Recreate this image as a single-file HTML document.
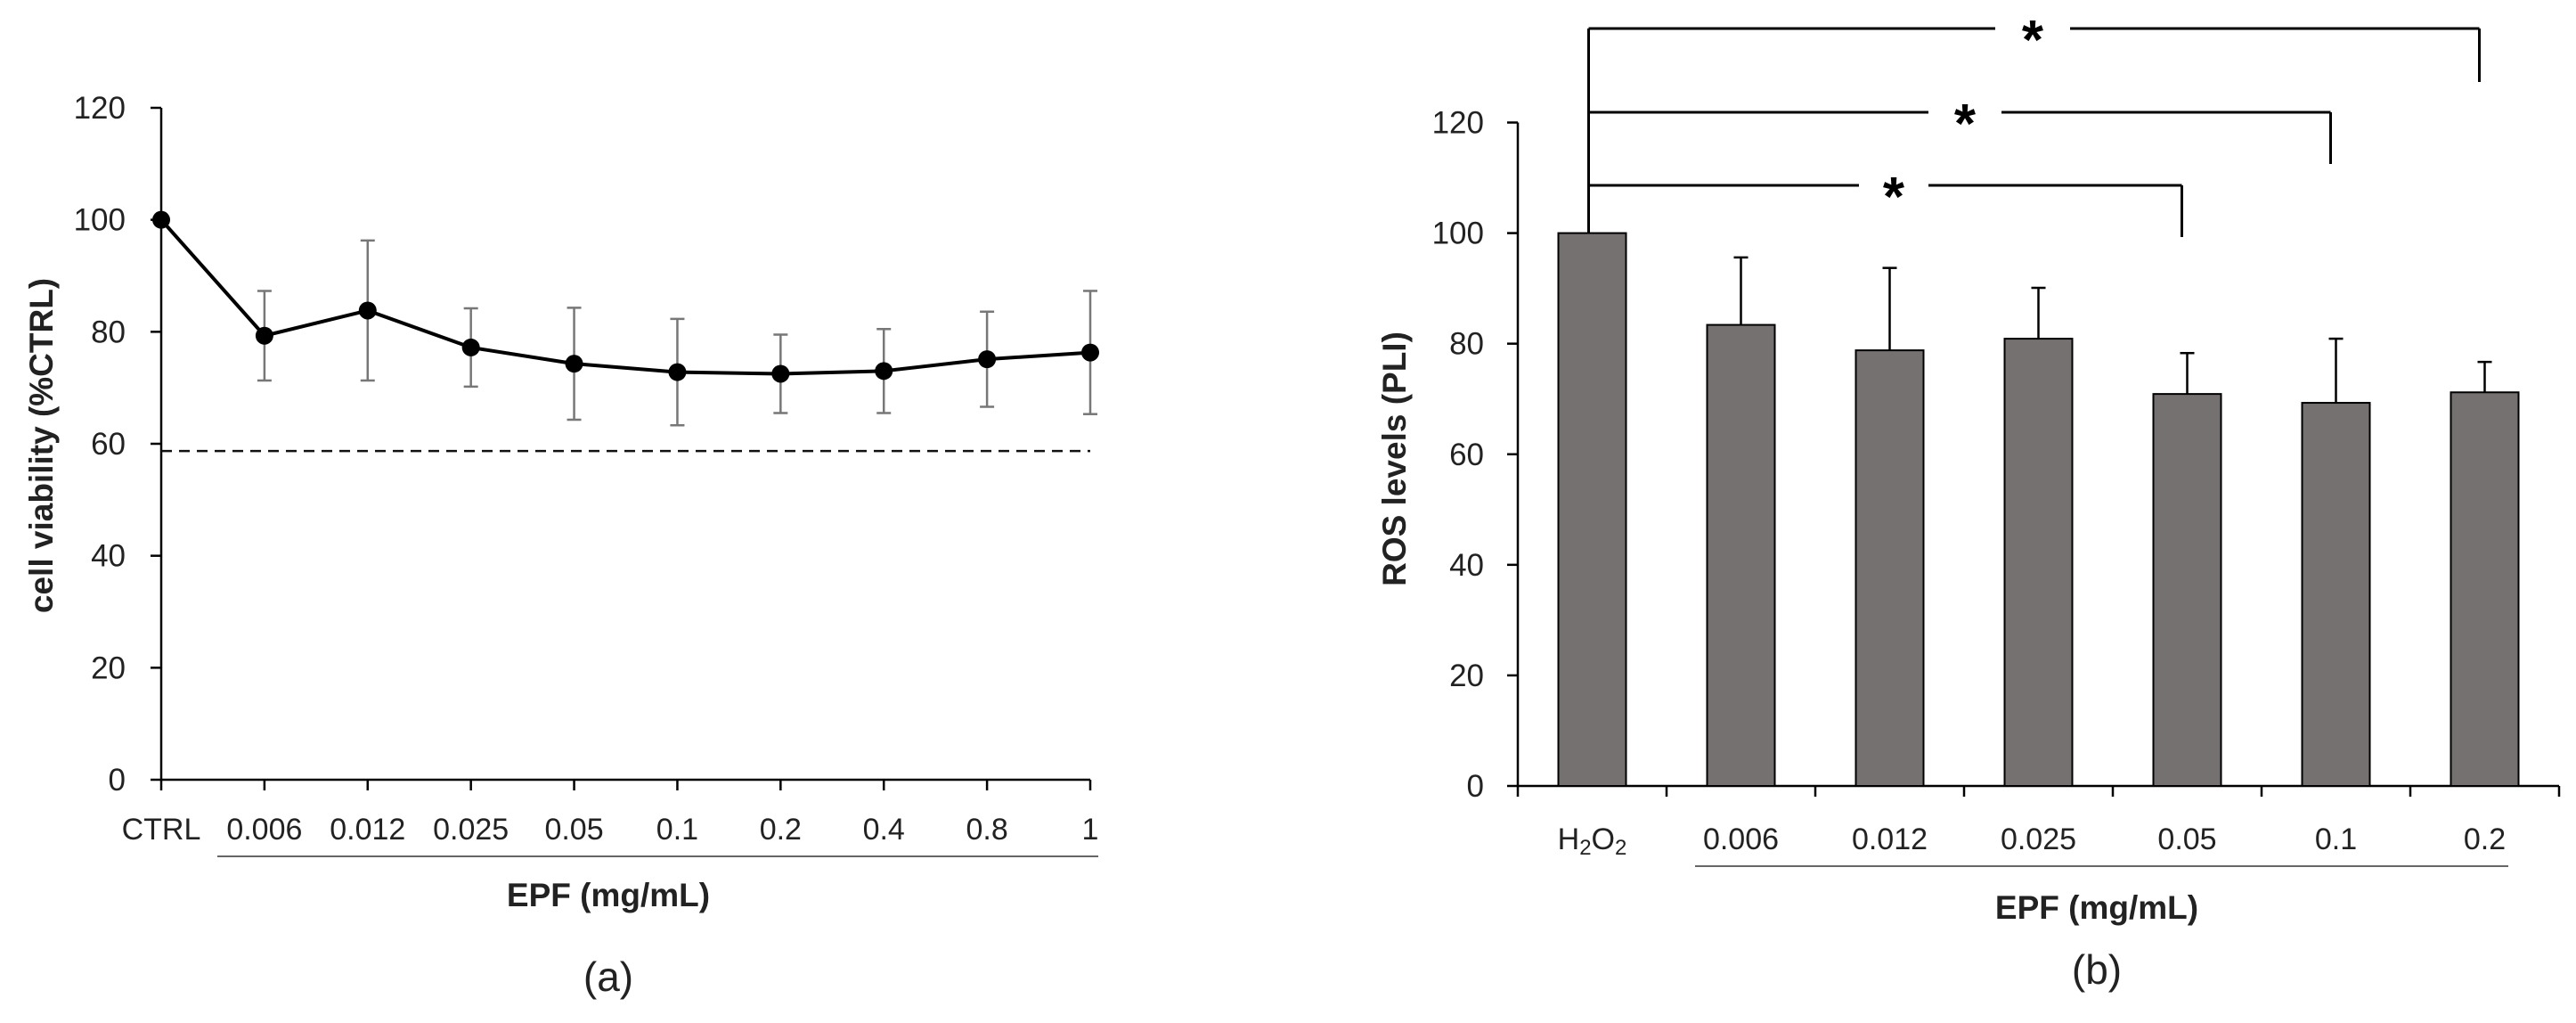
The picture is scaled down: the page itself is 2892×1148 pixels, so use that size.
<!DOCTYPE html>
<html><head><meta charset="utf-8"><style>
body{margin:0;background:#fff}
svg{display:block;font-family:"Liberation Sans",sans-serif}
</style></head><body>
<svg id="s" width="2892" height="1148" viewBox="0 0 2892 1148"></svg>
<script>
// Chart (a) data
const catsA = ["CTRL","0.006","0.012","0.025","0.05","0.1","0.2","0.4","0.8","1"];
const valsA = [100,79.3,83.8,77.2,74.3,72.8,72.5,73.0,75.1,76.3];
const errA  = [0,8,12.5,7,10,9.5,7,7.5,8.5,11];
const ticksA = [0,20,40,60,80,100,120];
const thresholdA = 58.7;
// Chart (b) data
const catsB = ["H2O2","0.006","0.012","0.025","0.05","0.1","0.2"];
const valsB = [100,83.4,78.8,80.9,70.9,69.3,71.2];
const errB  = [0,12.2,14.9,9.2,7.4,11.6,5.5];
const ticksB = [0,20,40,60,80,100,120];
const sigB = [[0,4],[0,5],[0,6]];

const s=document.getElementById('s');
const NS='http://www.w3.org/2000/svg';
function el(tag,at,txt,parent){const e=document.createElementNS(NS,tag);for(const k in at)e.setAttribute(k,at[k]);if(txt!=null)e.textContent=txt;(parent||s).appendChild(e);return e;}

// ---------- Chart A ----------
const gA=el('g',{});


const ax0=181, axEnd=1224, ay0=875, ay120=121;
const xA=i=>ax0+i*(axEnd-ax0)/(catsA.length-1);
const yA=v=>ay0-(v/120)*(ay0-ay120);
let e;
e=el('line',{x1:ax0,y1:yA(120),x2:ax0,y2:ay0,stroke:'#000','stroke-width':2.5},null,gA);


e=el('line',{x1:ax0,y1:ay0,x2:axEnd,y2:ay0,stroke:'#000','stroke-width':2.5},null,gA);


ticksA.forEach(t=>{
  el('line',{x1:ax0-12,y1:yA(t),x2:ax0,y2:yA(t),stroke:'#000','stroke-width':2.5},null,gA);
  e=el('text',{x:ax0-40,y:yA(t)+12,'text-anchor':'end','font-size':35,fill:'#222'},String(t),gA);
  
  
});
catsA.forEach((c,i)=>{
  el('line',{x1:xA(i),y1:ay0,x2:xA(i),y2:ay0+12,stroke:'#000','stroke-width':2.5},null,gA);
  e=el('text',{x:xA(i),y:ay0+67,'text-anchor':'middle','font-size':34,fill:'#222'},c,gA);
  
  
});
e=el('line',{x1:ax0,y1:yA(thresholdA),x2:axEnd,y2:yA(thresholdA),stroke:'#111','stroke-width':2.5,'stroke-dasharray':'12,8'},null,gA);


valsA.forEach((v,i)=>{
  if(errA[i]>0){
    const g=el('g',{stroke:'#777','stroke-width':2.5},null,gA);
    
    
    el('line',{x1:xA(i),y1:yA(v+errA[i]),x2:xA(i),y2:yA(v-errA[i])},null,g);
    el('line',{x1:xA(i)-8,y1:yA(v+errA[i]),x2:xA(i)+8,y2:yA(v+errA[i])},null,g);
    el('line',{x1:xA(i)-8,y1:yA(v-errA[i]),x2:xA(i)+8,y2:yA(v-errA[i])},null,g);
  }
});
e=el('polyline',{points:valsA.map((v,i)=>xA(i)+','+yA(v)).join(' '),fill:'none',stroke:'#000','stroke-width':4},null,gA);


valsA.forEach((v,i)=>{
  e=el('circle',{cx:xA(i),cy:yA(v),r:10,fill:'#000'},null,gA);
  
  
});
e=el('line',{x1:244,y1:961,x2:1233,y2:961,stroke:'#666','stroke-width':2},null,gA);


e=el('text',{x:683,y:1017,'text-anchor':'middle','font-size':37,'font-weight':'bold',fill:'#222'},'EPF (mg/mL)',gA);


e=el('text',{x:0,y:0,transform:'translate(59,500) rotate(-90)','text-anchor':'middle','font-size':37,'font-weight':'bold',fill:'#222'},'cell viability (%CTRL)',gA);


e=el('text',{x:683,y:1112,'text-anchor':'middle','font-size':46,fill:'#222'},'(a)',gA);



// ---------- Chart B ----------
const gB=el('g',{});


const bx0=1704, bstep=167, by0=882, by120=137.5, bw=76;
const xB=i=>bx0+bstep*(i+0.5);
const yB=v=>by0-(v/120)*(by0-by120);
e=el('line',{x1:bx0,y1:yB(120),x2:bx0,y2:by0,stroke:'#000','stroke-width':2.5},null,gB);


e=el('line',{x1:bx0,y1:by0,x2:bx0+bstep*catsB.length,y2:by0,stroke:'#000','stroke-width':2.5},null,gB);


ticksB.forEach(t=>{
  el('line',{x1:bx0-12,y1:yB(t),x2:bx0,y2:yB(t),stroke:'#000','stroke-width':2.5},null,gB);
  e=el('text',{x:bx0-38,y:yB(t)+12,'text-anchor':'end','font-size':35,fill:'#222'},String(t),gB);
  
  
});
for(let i=0;i<=catsB.length;i++) el('line',{x1:bx0+bstep*i,y1:by0,x2:bx0+bstep*i,y2:by0+12,stroke:'#000','stroke-width':2.5},null,gB);
catsB.forEach((c,i)=>{
  e=el('text',{x:xB(i),y:by0+71,'text-anchor':'middle','font-size':34,fill:'#222'},null,gB);
  
  
  if(c==='H2O2'){
    e.appendChild(document.createTextNode('H'));
    el('tspan',{'font-size':24,dy:6},'2',e);
    el('tspan',{dy:-6},'O',e);
    el('tspan',{'font-size':24,dy:6},'2',e);
  } else e.textContent=c;
});
valsB.forEach((v,i)=>{
  e=el('rect',{x:xB(i)-bw/2,y:yB(v),width:bw,height:by0-yB(v),fill:'#767171',stroke:'#000','stroke-width':2},null,gB);
  
  
  if(errB[i]>0){
    const g=el('g',{stroke:'#000','stroke-width':2.5},null,gB);
    
    
    el('line',{x1:xB(i),y1:yB(v),x2:xB(i),y2:yB(v+errB[i])},null,g);
    el('line',{x1:xB(i)-8,y1:yB(v+errB[i]),x2:xB(i)+8,y2:yB(v+errB[i])},null,g);
  }
});
const brY=[208,126,32], drop=[266,184,92], starX=[2126,2206,2282], gapW=[78,82,84];
sigB.forEach((p,k)=>{
  const g=el('g',{stroke:'#000','stroke-width':3,fill:'none'},null,gB);
  
  
  const x1=xB(p[0])-4, x2=xB(p[1])-6;
  el('line',{x1:x1,y1:brY[k],x2:starX[k]-gapW[k]/2,y2:brY[k]},null,g);
  el('line',{x1:starX[k]+gapW[k]/2,y1:brY[k],x2:x2,y2:brY[k]},null,g);
  el('line',{x1:x2,y1:brY[k],x2:x2,y2:drop[k]},null,g);
  e=el('text',{x:starX[k],y:brY[k]+34,'text-anchor':'middle','font-size':62,'font-weight':'bold',fill:'#000',stroke:'none'},'*',gB);
  
  
});
e=el('line',{x1:xB(0)-4,y1:32,x2:xB(0)-4,y2:yB(valsB[0]),stroke:'#000','stroke-width':3},null,gB);


e=el('line',{x1:1903,y1:972,x2:2816,y2:972,stroke:'#666','stroke-width':2},null,gB);


e=el('text',{x:2354,y:1031,'text-anchor':'middle','font-size':37,'font-weight':'bold',fill:'#222'},'EPF (mg/mL)',gB);


e=el('text',{x:0,y:0,transform:'translate(1578,515) rotate(-90)','text-anchor':'middle','font-size':37,'font-weight':'bold',fill:'#222'},'ROS levels (PLI)',gB);


e=el('text',{x:2354,y:1104,'text-anchor':'middle','font-size':46,fill:'#222'},'(b)',gB);


</script>
</body></html>
